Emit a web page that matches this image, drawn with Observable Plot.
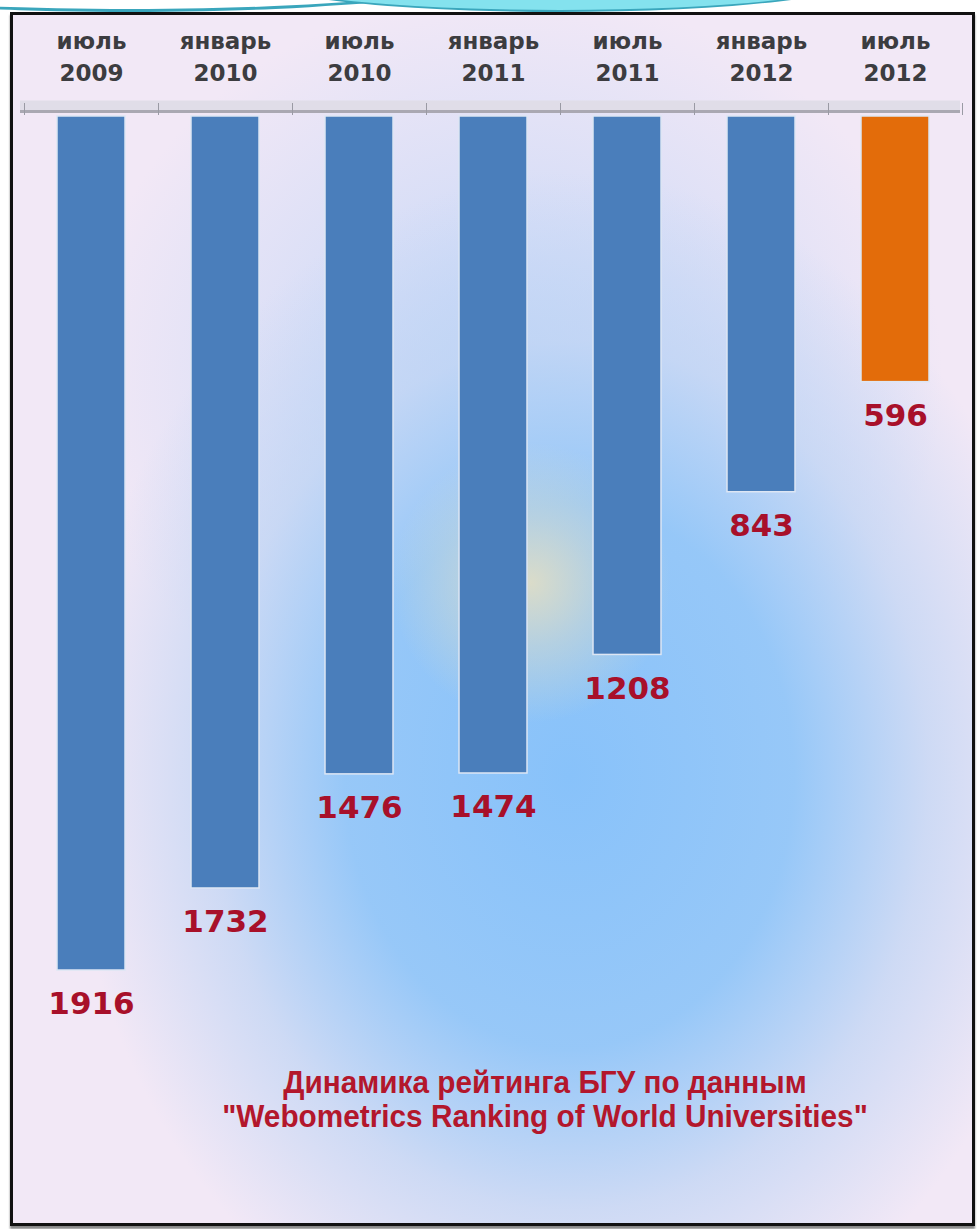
<!DOCTYPE html>
<html>
<head>
<meta charset="utf-8">
<script src="https://cdn.jsdelivr.net/npm/d3@7"></script>
<script src="https://cdn.jsdelivr.net/npm/@observablehq/plot@0.6"></script>
<style>
  html, body { margin: 0; padding: 0; background: #ffffff; }
  #wrap { position: relative; width: 980px; height: 1229px; overflow: hidden; background: #ffffff; }
  #arc2 { position: absolute; left: -250px; top: -70px; width: 760px; height: 82px; border-radius: 50%;
          border: 3px solid #3aa6bc; box-sizing: border-box; background: transparent; }
  #arc { position: absolute; left: 250px; top: -60px; width: 620px; height: 72px; border-radius: 50%;
         background: #84e2ee; border: 2px solid #3aa6bc; box-sizing: border-box; }
  #panel { position: absolute; left: 10px; top: 12px; width: 965px; height: 1214px; box-sizing: border-box;
           border: 3px solid #111; box-shadow: 0 3px 2px #888;
           background:
             radial-gradient(circle 140px at 54% 47%, rgba(226,222,196,0.9) 0%, rgba(226,222,196,0.45) 45%, rgba(226,222,196,0) 100%),
             radial-gradient(ellipse 52% 50% at 58% 63%, rgba(136,194,250,1) 0%, rgba(146,198,248,0.95) 45%, rgba(190,212,244,0.7) 72%, rgba(240,230,246,0) 100%),
             radial-gradient(ellipse 45% 32% at 52% 30%, rgba(178,208,248,0.75) 0%, rgba(240,230,246,0) 100%),
             #f2e8f6; }
  #chart { position: absolute; left: 0; top: 0; }
  #caption { position: absolute; left: 0; top: 1065px; width: 1172px; text-align: center;
             font-family: "Liberation Sans", Arial, sans-serif; font-weight: bold; font-size: 32px;
             line-height: 34px; color: #b3172c; transform: scaleX(0.93); transform-origin: 0 0; }
</style>
</head>
<body>
<div id="wrap">
  <div id="arc2"></div>
  <div id="arc"></div>
  <div id="panel"></div>
  <div id="chart"></div>
  <div id="caption">Динамика рейтинга БГУ по данным<br>"Webometrics Ranking of World Universities"</div>
</div>
<script>
const months = ["июль", "январь", "июль", "январь", "июль", "январь", "июль"];
const years = ["2009", "2010", "2010", "2011", "2011", "2012", "2012"];
const ranks = [1916, 1732, 1476, 1474, 1208, 843, 596];
const highlight = [false, false, false, false, false, false, true];

const data = months.map((m, i) => ({
  key: m + " " + years[i],
  label: m + "\n" + years[i],
  rank: ranks[i],
  hi: highlight[i]
}));
const keys = data.map(d => d.key);

const chart = Plot.plot({
  width: 980,
  height: 1050,
  marginTop: 114,
  marginLeft: 20,
  marginRight: 20,
  marginBottom: 0,
  style: { background: "transparent", overflow: "visible" },
  x: { domain: keys, range: [24, 962], paddingInner: 0.493, paddingOuter: 0.2465, axis: null },
  y: { domain: [0, 1916], range: [116, 970], axis: null },
  marks: [
    Plot.ruleY([0], { stroke: "#e0dde8", strokeWidth: 12, dy: -10 }),
    Plot.ruleY([0], { stroke: "#aaa8b2", strokeWidth: 3, dy: -5 }),
    Plot.axisX({ anchor: "top", label: null, tickSize: 12, dx: -67, tickFormat: () => "", stroke: "#9a9aa4" }),
    Plot.axisX({ ticks: [keys[keys.length - 1]], anchor: "top", label: null, tickSize: 12, dx: 67, tickFormat: () => "", stroke: "#9a9aa4" }),
    Plot.barY(data, {
      x: "key", y: "rank",
      fill: d => d.hi ? "#e36c0a" : "#4a7ebb",
      stroke: "#dde6f4", strokeWidth: 1.5
    }),
    Plot.text(data, {
      x: "key", frameAnchor: "top", lineAnchor: "middle", dy: -60,
      text: "label", lineHeight: 1.4,
      fontSize: 23, fontWeight: "bold", fill: "#3c3c40",
      fontFamily: "DejaVu Sans, Verdana, sans-serif"
    }),
    Plot.text(data, {
      x: "key", y: "rank", dy: 34,
      text: d => String(d.rank),
      fontSize: 31, fontWeight: "bold", fill: "#a8102a",
      fontFamily: "DejaVu Sans, Verdana, sans-serif"
    })
  ]
});
document.getElementById("chart").appendChild(chart);
</script>
</body>
</html>
